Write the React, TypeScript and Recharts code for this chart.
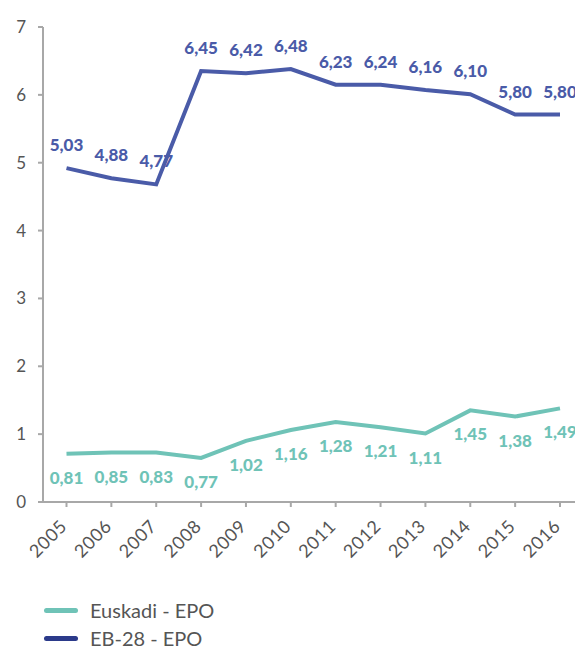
import React from "react";
import { LineChart, Line, XAxis, YAxis, LabelList } from "recharts";

const years = ["2005","2006","2007","2008","2009","2010","2011","2012","2013","2014","2015","2016"];
const euskadiValues = [0.71, 0.73, 0.73, 0.65, 0.90, 1.06, 1.18, 1.10, 1.01, 1.35, 1.26, 1.38];
const euskadiLabels = ["0,81","0,85","0,83","0,77","1,02","1,16","1,28","1,21","1,11","1,45","1,38","1,49"];
const eb28Values = [4.92, 4.77, 4.68, 6.35, 6.32, 6.38, 6.15, 6.15, 6.07, 6.01, 5.71, 5.71];
const eb28Labels = ["5,03","4,88","4,77","6,45","6,42","6,48","6,23","6,24","6,16","6,10","5,80","5,80"];
const yTicks = [0, 1, 2, 3, 4, 5, 6, 7];

const seriesNames = ["Euskadi - EPO", "EB-28 - EPO"];
const TEAL = "#6fc3b7";
const BLUE = "#4a5ba8";
const NAVY = "#2b3a8a";
const GRAY_TEXT = "#555555";
const AXIS = "#a8a8a8";
const FONT = "Lato, 'Noto Sans', sans-serif";

const data = years.map((y, i) => ({
  year: y,
  euskadi: euskadiValues[i],
  euskadiLabel: euskadiLabels[i],
  eb28: eb28Values[i],
  eb28Label: eb28Labels[i],
}));

const XTick = (props: any) => {
  const { x, y, payload } = props;
  return (
    <g transform={`translate(${x + 1.5},${y + 18.5}) rotate(-45)`}>
      <text
        x={0}
        y={0}
        textAnchor="end"
        fill={GRAY_TEXT}
        fontSize={18}
        letterSpacing={0.6}
        fontFamily={FONT}
      >
        {payload.value}
      </text>
    </g>
  );
};

export default function App() {
  return (
    <div
      style={{
        position: "fixed",
        left: 8,
        top: 8,
        width: 567,
        height: 640,
        overflow: "hidden",
        background: "#ffffff",
      }}
    >
      <LineChart
        width={580}
        height={570}
        data={data}
        margin={{ top: 19, right: 5, bottom: 0, left: 0 }}
      >
        <XAxis
          dataKey="year"
          padding={{ left: 23.5, right: 23 }}
          stroke={AXIS}
          strokeWidth={2}
          tickSize={5}
          tickLine={{ stroke: AXIS, strokeWidth: 2 }}
          tick={<XTick />}
          interval={0}
          height={76}
        />
        <YAxis
          domain={[0, 7]}
          ticks={yTicks}
          width={35}
          stroke={AXIS}
          strokeWidth={2}
          tickSize={5}
          tickMargin={12}
          tickLine={{ stroke: AXIS, strokeWidth: 2 }}
          tick={{ fill: GRAY_TEXT, fontSize: 17, fontFamily: FONT }}
          interval={0}
        />
        <Line
          dataKey="eb28"
          stroke={BLUE}
          strokeWidth={4}
          dot={false}
          isAnimationActive={false}
        >
          <LabelList
            dataKey="eb28Label"
            position="top"
            offset={17}
            fill={BLUE}
            fontSize={17}
            fontWeight={900}
            fontFamily={FONT}
          />
        </Line>
        <Line
          dataKey="euskadi"
          stroke={TEAL}
          strokeWidth={4}
          dot={false}
          isAnimationActive={false}
        >
          <LabelList
            dataKey="euskadiLabel"
            position="bottom"
            offset={18}
            fill={TEAL}
            fontSize={17}
            fontWeight={900}
            fontFamily={FONT}
          />
        </Line>
      </LineChart>
      {seriesNames.map((name, i) => (
        <div
          key={name}
          style={{
            position: "absolute",
            left: 36,
            top: 592 + i * 28,
            display: "flex",
            alignItems: "center",
            height: 20,
            lineHeight: "20px",
            fontFamily: FONT,
            fontSize: 20,
            color: GRAY_TEXT,
          }}
        >
          <span
            style={{
              display: "inline-block",
              width: 34,
              height: 5,
              borderRadius: 3,
              background: i === 0 ? TEAL : NAVY,
              marginRight: 12,
            }}
          />
          {name}
        </div>
      ))}
    </div>
  );
}
